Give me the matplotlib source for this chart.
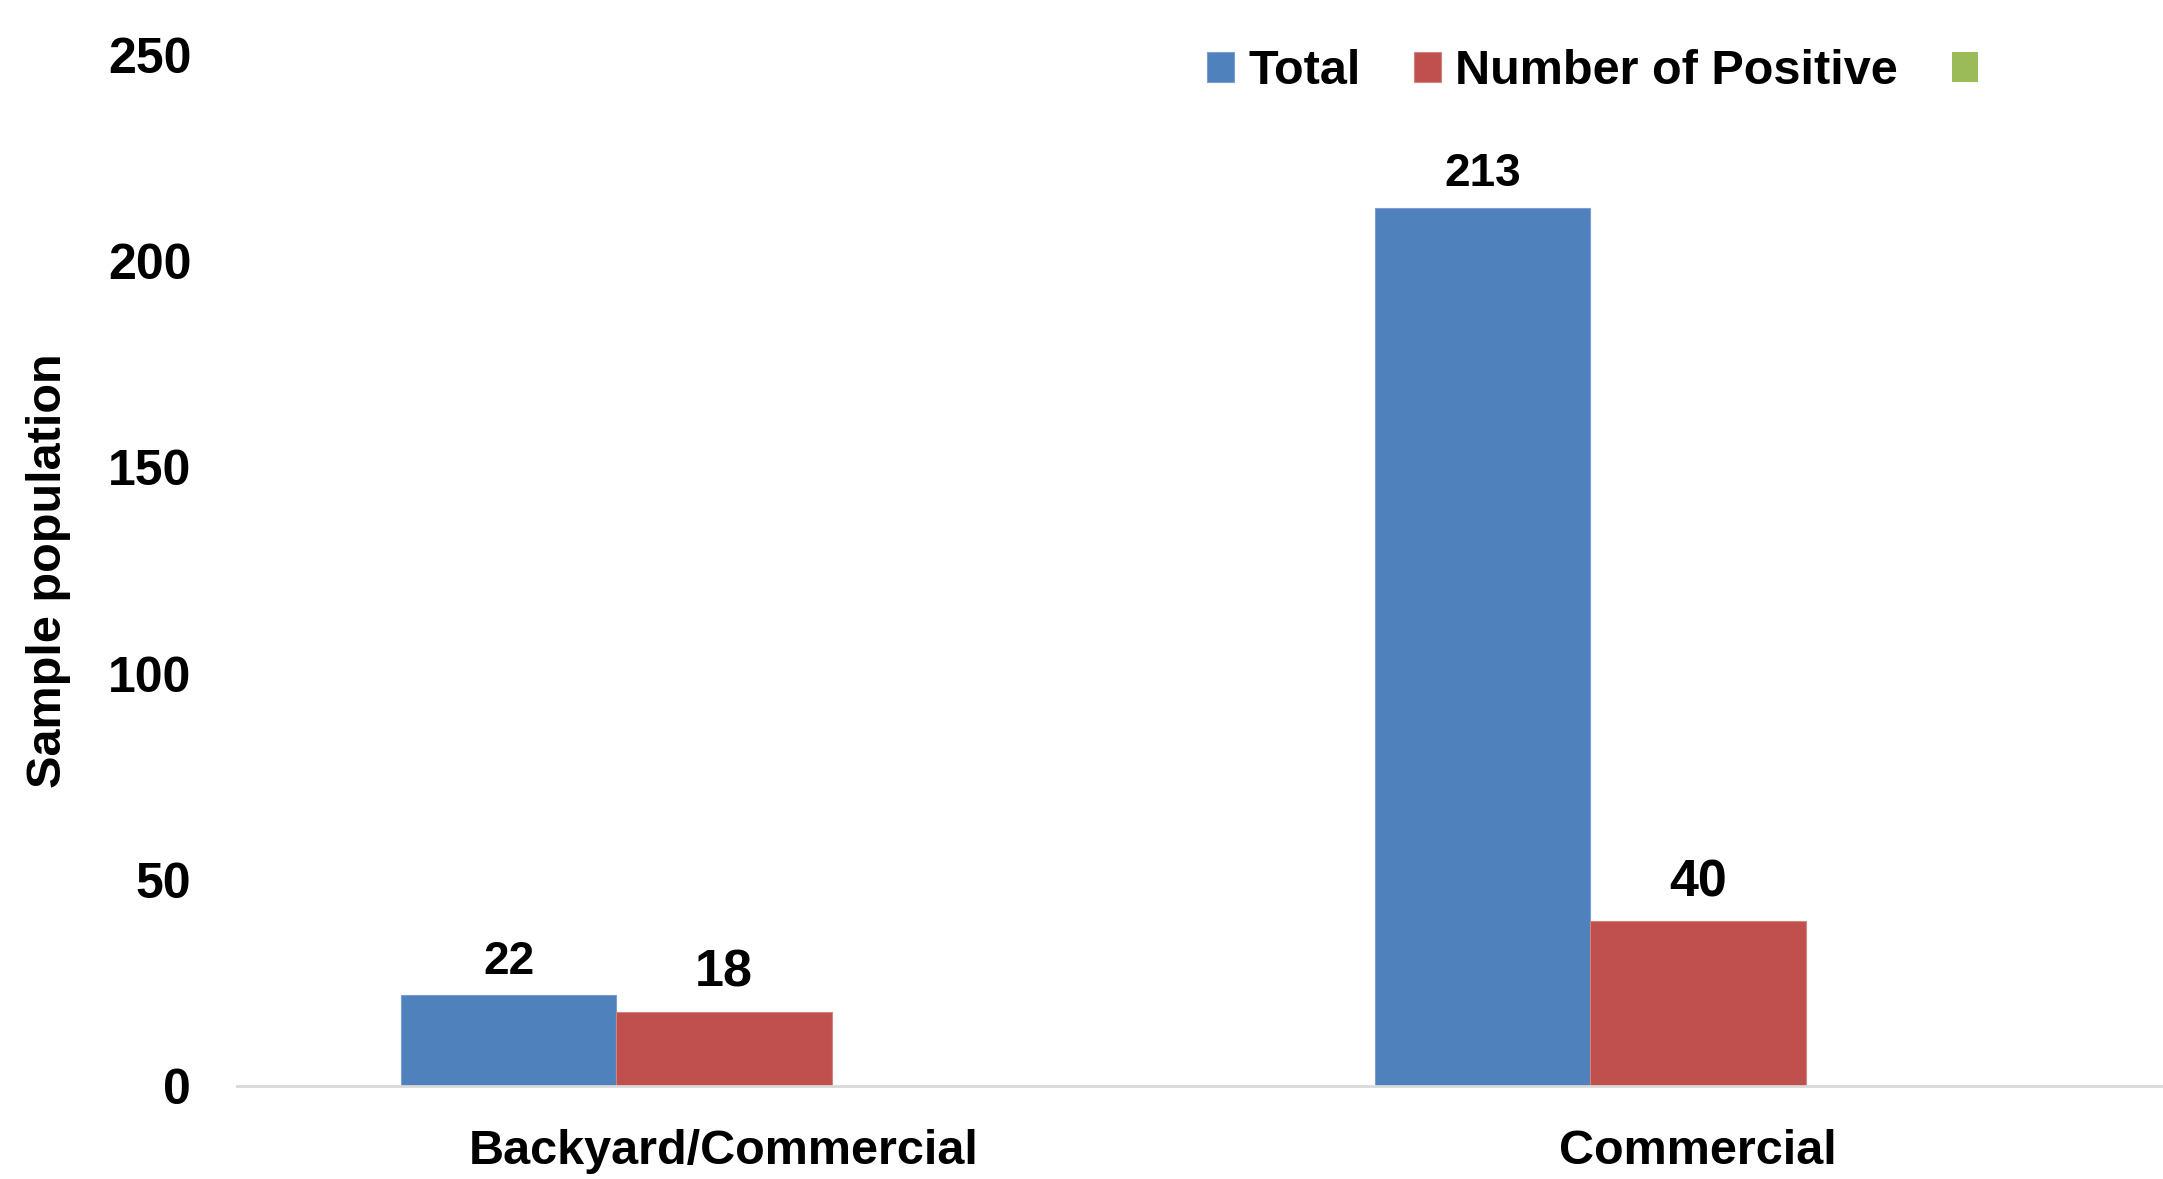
import numpy as np
import matplotlib
matplotlib.use("Agg")
import matplotlib.pyplot as plt

plt.rcParams['font.family'] = ['Liberation Sans', 'DejaVu Sans']
plt.rcParams['font.weight'] = 'bold'

# data
categories = ['Backyard/Commercial', 'Commercial']
total = [22, 213]
positive = [18, 40]
third = [np.nan, np.nan]  # green series, no values shown
series_names = ['Total', 'Number of Positive', '']
colors = ['#4F81BD', '#C0504D', '#9BBB59']
yticks = [0, 50, 100, 150, 200, 250]

fig = plt.figure(figsize=(21.63, 11.79), dpi=100)
ax = fig.add_axes([0.1096, 0.0789, 0.9006, 0.8745])

x = np.arange(len(categories))
w = 0.221
b1 = ax.bar(x - w, total, w, color=colors[0], edgecolor='#7a9ecf', linewidth=0.8)
b2 = ax.bar(x, positive, w, color=colors[1], edgecolor='#d08482', linewidth=0.8)
b3 = ax.bar(x + w, third, w, color=colors[2])

for rect, v in zip(b1, total):
    ax.annotate(str(v), (rect.get_x() + rect.get_width() / 2, v),
                xytext=(0, 8), textcoords='offset points',
                ha='center', va='bottom', fontsize=33, fontweight='bold')
for rect, v in zip(b2, positive):
    ax.annotate(str(v), (rect.get_x() + rect.get_width() / 2, v),
                xytext=(0, 10), textcoords='offset points',
                ha='center', va='bottom', fontsize=37.5, fontweight='bold')

ax.set_xlim(-0.5, 1.5)
ax.set_ylim(0, 250)
ax.set_yticks(yticks)
ax.set_xticks(x)
ax.set_xticklabels(categories)
ax.tick_params(axis='y', length=0, pad=33, labelsize=36)
ax.tick_params(axis='x', length=0, pad=31, labelsize=35)
for lbl in ax.get_xticklabels() + ax.get_yticklabels():
    lbl.set_fontweight('bold')

for s in ['top', 'right', 'left']:
    ax.spines[s].set_visible(False)
ax.spines['bottom'].set_color('#d9d9d9')
ax.spines['bottom'].set_linewidth(2)

ax.set_ylabel('Sample population', fontsize=35, fontweight='bold')
ax.yaxis.set_label_coords(-0.0855, 0.5)

fig.legend([b1, b2, b3], series_names, ncol=3, loc='center left',
           bbox_to_anchor=(0.558, 0.939), frameon=False,
           handlelength=0.55, handleheight=0.58, handletextpad=0.3,
           columnspacing=1.1, borderpad=0, borderaxespad=0,
           prop={'weight': 'bold', 'size': 35})

fig.savefig('out.png', dpi=100)
